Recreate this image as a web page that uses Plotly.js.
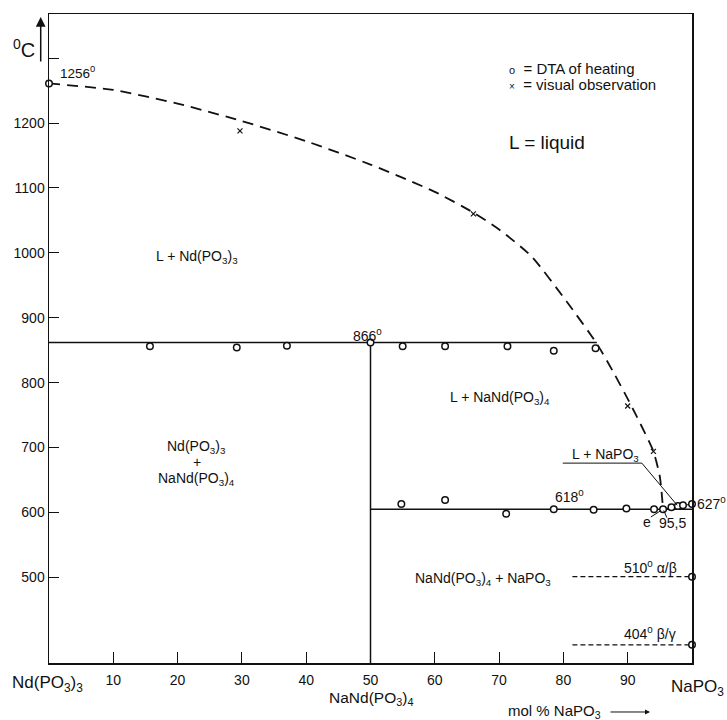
<!DOCTYPE html>
<html>
<head>
<meta charset="utf-8">
<script src="https://cdn.plot.ly/plotly-3.0.1.min.js"></script>
<style>html,body{margin:0;padding:0;background:#fff;}#chart{width:727px;height:720px;}</style>
</head>
<body>
<div id="chart"></div>
<script>
// Liquidus (dashed curve), mol % NaPO3 vs temperature
const liqX = [0, 10, 20, 30, 40, 50, 60, 66, 70, 75, 80.5, 85.2, 88, 90, 91.4, 94, 95, 95.5];
const liqT = [1261, 1251, 1230, 1203, 1172, 1136, 1094, 1062, 1036, 995, 925, 860, 812, 775, 748, 694, 655, 605];
// DTA points on the 866 line
const dta866X = [15.7, 29.2, 37, 55, 61.6, 71.3, 78.5, 85];
const dta866T = [856, 854, 857, 856, 856, 856, 849, 853];
// DTA points on the eutectic line
const dtaEutX = [54.8, 61.6, 71.1, 78.5, 84.7, 89.8, 94.1, 95.5, 96.8, 97.8, 98.6, 100];
const dtaEutT = [613, 619, 598, 605, 604, 606, 605, 605, 608, 610, 611, 613];
// Singular DTA points: Nd(PO3)3 melting, NaNd(PO3)4, NaPO3 transitions
const dtaOtherX = [0, 50, 100, 100];
const dtaOtherT = [1261, 862, 501, 396];
// Visual observation points
const visX = [29.7, 66, 90, 94];
const visT = [1188, 1060, 764, 694];
// Invariant lines
const peritT = 862, peritEndX = 85.2;
const eutT = 605, eutX = 95.5;
const alphaBetaT = 501, betaGammaT = 396, transStartX = 81.4;
const xTicks = [10, 20, 30, 40, 50, 60, 70, 80, 90];
const yTicks = [500, 600, 700, 800, 900, 1000, 1100, 1200, 1300];
const yTickText = ['500', '600', '700', '800', '900', '1000', '1100', '1200', ''];

const F = 'Liberation Sans, Arial, Helvetica, sans-serif';
const blk = '#111';

const traces = [
  {x: liqX, y: liqT, mode: 'lines', line: {color: blk, width: 1.8, dash: '11px,7px', shape: 'spline', smoothing: 0.6}, hoverinfo: 'skip'},
  {x: [0, peritEndX], y: [peritT, peritT], mode: 'lines', line: {color: blk, width: 1.5}},
  {x: [50, 50], y: [368, peritT], mode: 'lines', line: {color: blk, width: 1.5}},
  {x: [50, 100], y: [eutT, eutT], mode: 'lines', line: {color: blk, width: 1.5}},
  {x: [eutX, 100], y: [eutT, dtaEutT[dtaEutT.length - 1]], mode: 'lines', line: {color: blk, width: 1.2}},
  {x: [transStartX, 100], y: [alphaBetaT, alphaBetaT], mode: 'lines', line: {color: blk, width: 1.2, dash: '5px,3px'}},
  {x: [transStartX, 100], y: [betaGammaT, betaGammaT], mode: 'lines', line: {color: blk, width: 1.2, dash: '5px,3px'}},
  {x: dta866X.concat(dtaEutX, dtaOtherX), y: dta866T.concat(dtaEutT, dtaOtherT), mode: 'markers',
   marker: {symbol: 'circle', size: 6.5, color: '#fff', line: {color: blk, width: 1.5}}, cliponaxis: false},
  {x: visX, y: visT, mode: 'markers', marker: {symbol: 'x-thin', size: 5, line: {color: blk, width: 1.2}}}
];

function ann(x, y, text, size, extra) {
  return Object.assign({x: x, y: y, xref: 'x', yref: 'y', text: text, showarrow: false,
    xanchor: 'center', yanchor: 'middle',
    font: {family: F, size: size || 14, color: blk}}, extra || {});
}
function pann(x, y, text, size, extra) {
  return Object.assign({x: x, y: y, xref: 'paper', yref: 'paper', text: text, showarrow: false,
    xanchor: 'center', yanchor: 'middle',
    font: {family: F, size: size || 14, color: blk}}, extra || {});
}

const annotations = [
  ann(1.4, 1279, '1256<sup>0</sup>', 13.5, {xanchor: 'left'}),
  ann(71.2, 1284, '<span style="font-size:11px">o</span>  = DTA of heating', 15, {xanchor: 'left'}),
  ann(71.2, 1260, '<span style="font-size:10px">×</span>  = visual observation', 15, {xanchor: 'left'}),
  ann(71.2, 1170, 'L = liquid', 19, {xanchor: 'left'}),
  ann(23, 993, 'L + Nd(PO<sub>3</sub>)<sub>3</sub>', 14),
  ann(49.6, 874, '866<sup>0</sup>', 14),
  ann(70.1, 777, 'L + NaNd(PO<sub>3</sub>)<sub>4</sub>', 14),
  ann(23, 701, 'Nd(PO<sub>3</sub>)<sub>3</sub>', 14),
  ann(23, 677, '+', 14),
  ann(23, 651, 'NaNd(PO<sub>3</sub>)<sub>4</sub>', 14),
  ann(86.6, 689, 'L + NaPO<sub>3</sub>', 14),
  ann(81, 626, '618<sup>0</sup>', 14),
  pann(1.005, 0.2465, '627<sup>0</sup>', 14, {xanchor: 'left'}),
  ann(93, 586, 'e', 14),
  ann(97, 584, '95,5', 14),
  ann(67.5, 497, 'NaNd(PO<sub>3</sub>)<sub>4</sub> + NaPO<sub>3</sub>', 14),
  ann(93.5, 516, '510<sup>0</sup> α/β', 14),
  ann(93.5, 414, '404<sup>0</sup> β/γ', 14),
  pann(-0.003, -0.033, 'Nd(PO<sub>3</sub>)<sub>3</sub>', 17),
  pann(1.009, -0.039, 'NaPO<sub>3</sub>', 17),
  pann(0.5008, -0.054, 'NaNd(PO<sub>3</sub>)<sub>4</sub>', 15.5),
  pann(0.786, -0.0755, 'mol % NaPO<sub>3</sub>', 15),
  {x: 0.9347, y: -0.0755, xref: 'paper', yref: 'paper', text: '', showarrow: true, ax: -41, ay: 0,
   arrowhead: 2, arrowsize: 1, arrowwidth: 1, arrowcolor: blk},
  pann(-0.039, 0.9476, '<sup>0</sup>C', 20),
  {x: -0.0129, y: 0.9954, xref: 'paper', yref: 'paper', text: '', showarrow: true, ax: 0, ay: 46,
   arrowhead: 2, arrowsize: 1.3, arrowwidth: 1.5, arrowcolor: blk}
];

const shapes = [
  // leader line for L + NaPO3
  {type: 'path', xref: 'x', yref: 'y', path: 'M 79.9 676 L 92.2 676 L 97.7 611', line: {color: blk, width: 1}},
  // leader lines for eutectic label
  {type: 'line', xref: 'x', yref: 'y', x0: 93.6, y0: 593, x1: 95.2, y1: 603, line: {color: blk, width: 1}},
  {type: 'line', xref: 'x', yref: 'y', x0: 96.1, y0: 592, x1: 95.6, y1: 603, line: {color: blk, width: 1}}
];

const layout = {
  width: 727, height: 720,
  margin: {l: 49, r: 35, t: 14, b: 57},
  paper_bgcolor: '#fff', plot_bgcolor: '#fff',
  showlegend: false,
  font: {family: F, size: 14, color: blk},
  xaxis: {range: [0, 100], tickvals: xTicks, ticktext: xTicks.map(String), ticks: 'inside', ticklen: 11, tickwidth: 1,
    tickcolor: blk, showline: true, mirror: true, linecolor: blk, linewidth: 1.5, showgrid: false, zeroline: false,
    ticklabelstandoff: 4, tickfont: {family: F, size: 14, color: blk}},
  yaxis: {range: [368, 1368], tickvals: yTicks, ticktext: yTickText, ticks: 'inside', ticklen: 10, tickwidth: 1,
    tickcolor: blk, showline: true, mirror: true, linecolor: blk, linewidth: 1.5, showgrid: false, zeroline: false,
    tickfont: {family: F, size: 14, color: blk}},
  annotations: annotations,
  shapes: shapes
};

Plotly.newPlot('chart', traces, layout, {displayModeBar: false, staticPlot: true});
</script>
</body>
</html>
